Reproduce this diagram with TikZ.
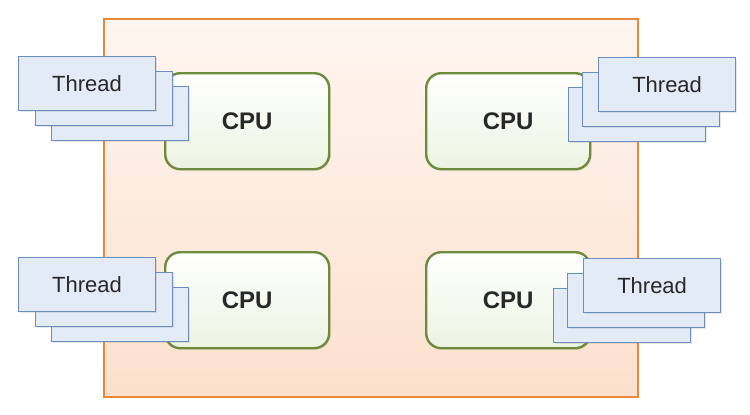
\documentclass[tikz,border=0pt]{standalone}
\usepackage{fontspec}
\setmainfont{Liberation Sans}
\usetikzlibrary{shadows}
\definecolor{orangeB}{RGB}{240,134,58}
\definecolor{orangeT}{RGB}{254,246,240}
\definecolor{orangeBt}{RGB}{252,224,205}
\definecolor{greenB}{RGB}{110,139,61}
\definecolor{greenT}{RGB}{255,255,255}
\definecolor{greenBt}{RGB}{236,243,226}
\definecolor{blueB}{RGB}{108,142,191}
\definecolor{blueF}{RGB}{227,235,247}
\definecolor{txt}{RGB}{40,40,40}
\tikzset{
  container/.style={draw=orangeB, line width=2.4pt, top color=orangeT, bottom color=orangeBt, anchor=north west, inner sep=0pt},
  cpubox/.style={draw=greenB, line width=2.4pt, rounded corners=15pt, top color=greenT, bottom color=greenBt,
     anchor=north west, minimum width=164pt, minimum height=96pt, inner sep=0pt,
     font=\fontsize{24pt}{28pt}\selectfont\bfseries, text=txt,
     drop shadow={shadow xshift=1.5pt, shadow yshift=-1.5pt, opacity=0.15}},
  threadbox/.style={draw=blueB, line width=1.2pt, fill=blueF, anchor=north west,
     minimum width=137pt, minimum height=54pt, inner sep=0pt,
     font=\fontsize{22pt}{26pt}\selectfont, text=txt,
     drop shadow={shadow xshift=1.5pt, shadow yshift=-1.5pt, opacity=0.18}}
}
\begin{document}
\begin{tikzpicture}[x=1pt,y=-1pt]
\useasboundingbox (0,0) rectangle (750,415);
\node[container, minimum width=534pt, minimum height=378pt] (sys) at (103,18) {};
% CPUs
\node[cpubox] (cpu1) at (164,72) {CPU};
\node[cpubox] (cpu2) at (425,72) {CPU};
\node[cpubox] (cpu3) at (164,251) {CPU};
\node[cpubox] (cpu4) at (425,251) {CPU};
% Threads top-left
\node[threadbox] (t1c) at (51,86) {};
\node[threadbox] (t1b) at (35,71) {};
\node[threadbox] (t1a) at (18,56) {Thread};
% Threads top-right
\node[threadbox] (t2c) at (568,87) {};
\node[threadbox] (t2b) at (582,72) {};
\node[threadbox] (t2a) at (598,57) {Thread};
% Threads bottom-left
\node[threadbox] (t3c) at (51,287) {};
\node[threadbox] (t3b) at (35,272) {};
\node[threadbox] (t3a) at (18,257) {Thread};
% Threads bottom-right
\node[threadbox] (t4c) at (553,288) {};
\node[threadbox] (t4b) at (567,273) {};
\node[threadbox] (t4a) at (583,258) {Thread};
\end{tikzpicture}
\end{document}
